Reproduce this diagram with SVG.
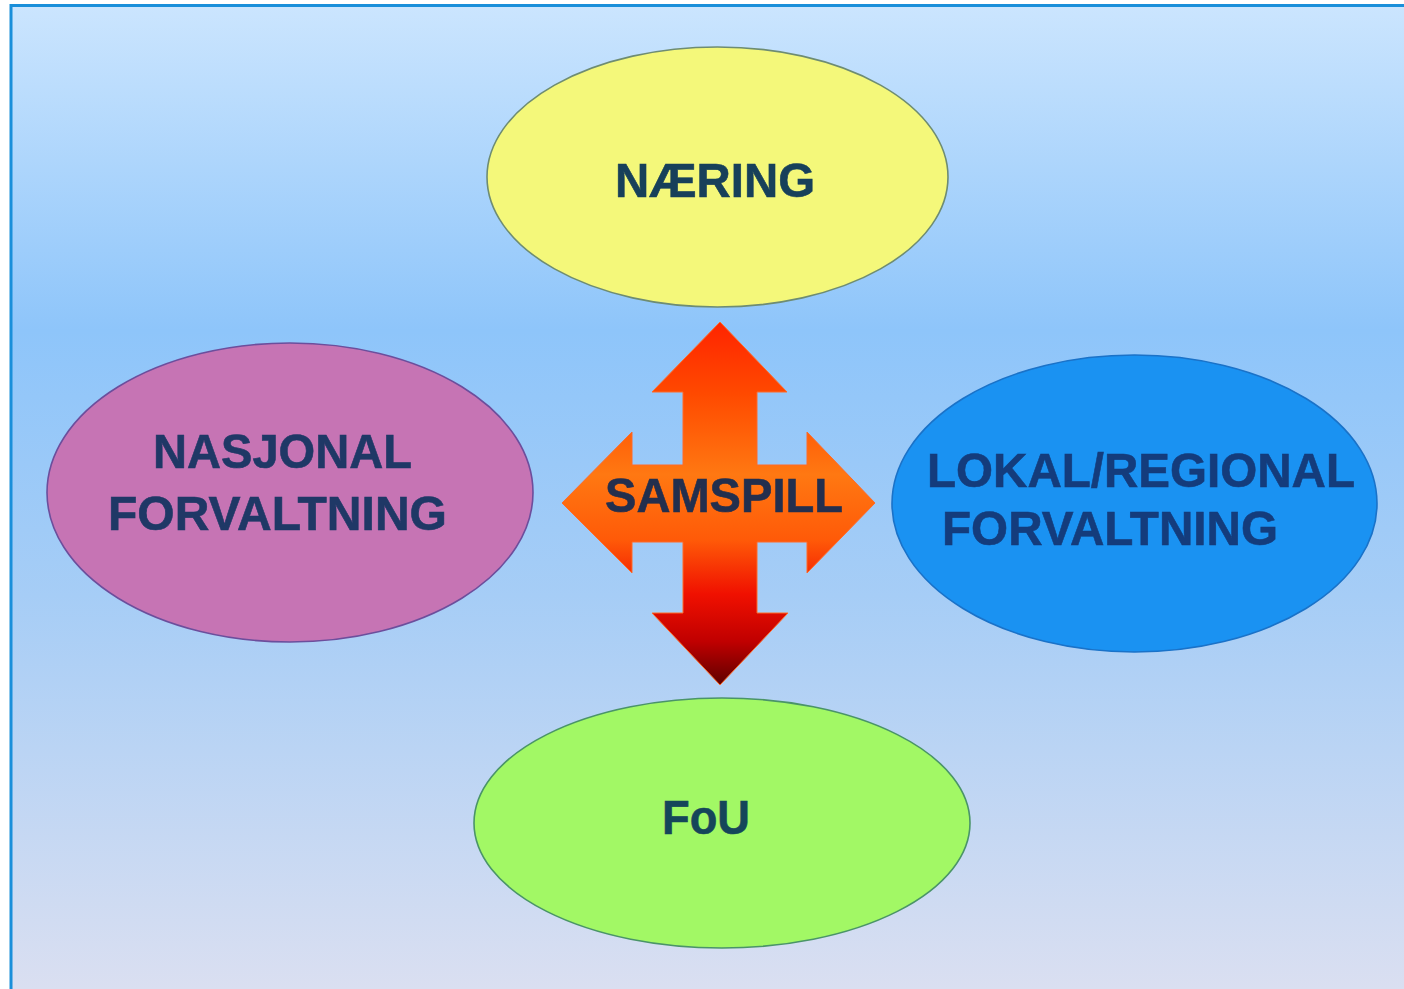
<svg xmlns="http://www.w3.org/2000/svg" width="1404" height="989" viewBox="0 0 1404 989">
  <defs>
    <linearGradient id="bg" x1="0" y1="0" x2="0" y2="1">
      <stop offset="0" stop-color="#cbe5fe"/>
      <stop offset="0.33" stop-color="#8ec5fa"/>
      <stop offset="0.6" stop-color="#a6cdf6"/>
      <stop offset="1" stop-color="#dadff1"/>
    </linearGradient>
    <linearGradient id="arrowGrad" gradientUnits="userSpaceOnUse" x1="0" y1="322" x2="0" y2="685">
      <stop offset="0" stop-color="#ff2400"/>
      <stop offset="0.2" stop-color="#ff4a00"/>
      <stop offset="0.42" stop-color="#ff7812"/>
      <stop offset="0.6" stop-color="#ff5a08"/>
      <stop offset="0.75" stop-color="#f01000"/>
      <stop offset="0.88" stop-color="#c00000"/>
      <stop offset="1" stop-color="#5e0000"/>
    </linearGradient>
  </defs>
  <style>
    .lbl { font-family: "Liberation Sans", Arial, sans-serif; font-weight: bold; font-size: 49px; text-anchor: middle; stroke-width: 0.6; }
    .node ellipse { stroke-width: 1.6; }
  </style>

  <rect x="0" y="0" width="1404" height="989" fill="#ffffff"/>
  <rect x="12" y="6" width="1392" height="983" fill="url(#bg)"/>
  <path d="M11,989 L11,5.5 L1404,5.5" fill="none" stroke="#1a8fda" stroke-width="3"/>

  <g id="connectors">
    <polygon id="samspill-arrow" fill="url(#arrowGrad)" stroke="#ff6a28" stroke-width="1"
      points="720,322 787,392 757,392 757,465 807,465 807,432 875,503 807,573 807,542 757,542 757,613 788,613 720,685 652,613 683,613 683,542 632,542 632,573 562,503 632,432 632,465 683,465 683,392 652,392"/>
  </g>

  <g id="node-samspill">
    <text class="lbl" x="724" y="512" fill="#232f4e" stroke="#232f4e" textLength="238" lengthAdjust="spacingAndGlyphs">SAMSPILL</text>
  </g>

  <g id="node-naering" class="node">
    <ellipse cx="717.5" cy="177" rx="230.5" ry="130" fill="#f4f87a" stroke="#6e8c72"/>
    <text class="lbl" x="715" y="197" fill="#17405a" stroke="#17405a" textLength="200" lengthAdjust="spacingAndGlyphs">NÆRING</text>
  </g>

  <g id="node-nasjonal" class="node">
    <ellipse cx="290" cy="492.5" rx="243" ry="149.5" fill="#c674b4" stroke="#6c4e9c"/>
    <text class="lbl" x="282.5" y="468" fill="#1f3866" stroke="#1f3866" textLength="259" lengthAdjust="spacingAndGlyphs">NASJONAL</text>
    <text class="lbl" x="277.5" y="530" fill="#1f3866" stroke="#1f3866" textLength="339" lengthAdjust="spacingAndGlyphs">FORVALTNING</text>
  </g>

  <g id="node-lokal" class="node">
    <ellipse cx="1134.5" cy="503.5" rx="242.5" ry="148.5" fill="#1a92f2" stroke="#1a72c8"/>
    <text class="lbl" x="1141" y="487" fill="#143c7c" stroke="#143c7c" textLength="428" lengthAdjust="spacingAndGlyphs">LOKAL/REGIONAL</text>
    <text class="lbl" x="1110" y="545" fill="#143c7c" stroke="#143c7c" textLength="336" lengthAdjust="spacingAndGlyphs">FORVALTNING</text>
  </g>

  <g id="node-fou" class="node">
    <ellipse cx="722" cy="823" rx="248" ry="125" fill="#a2f865" stroke="#4a9468"/>
    <text class="lbl" x="706" y="834" fill="#15465a" stroke="#15465a" textLength="88" lengthAdjust="spacingAndGlyphs">FoU</text>
  </g>
</svg>
